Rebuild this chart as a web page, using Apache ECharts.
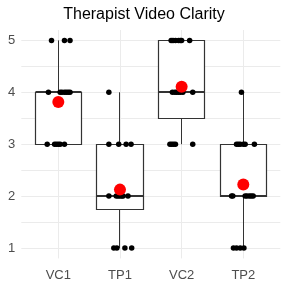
<!DOCTYPE html>
<html><head><meta charset="utf-8">
<script src="https://cdn.jsdelivr.net/npm/echarts@6/dist/echarts.min.js"></script>
<style>html,body{margin:0;padding:0;background:#fff}#c{width:288px;height:288px}</style>
</head><body><div id="c"></div>
<script>
const categories = ['VC1', 'TP1', 'VC2', 'TP2'];
const yTicks = [1, 2, 3, 4, 5];
const titleText = 'Therapist Video Clarity';

// ratings per group
const vc1Values = [3,3,3,3,3,3,4,4,4,4,4,4,4,5,5,5];
const tp1Values = [1,1,1,1,2,2,2,2,2,2,2,3,3,3,3,4];
const vc2Values = [3,3,3,3,3,4,4,4,4,4,4,4,5,5,5,5,5,5,5];
const tp2Values = [1,1,1,1,2,2,2,2,2,2,2,3,3,3,3,3,3,4];

// horizontal jitter (fraction of category spacing)
const vc1Jitter = [-0.18,-0.06,-0.03,0,0.03,0.10, -0.16,0.03,0.06,0.10,0.13,0.16,0.19, -0.11,0.10,0.19];
const tp1Jitter = [-0.10,-0.05,0.08,0.19, -0.18,-0.06,-0.03,0,0.03,0.05,0.13, -0.18,-0.02,0.10,0.18, -0.18];
const vc2Jitter = [-0.19,-0.16,-0.13,-0.10,0.18, -0.15,-0.11,-0.08,-0.05,-0.02,0.02,0.18, -0.17,-0.14,-0.10,-0.05,-0.02,0.0,0.13];
const tp2Jitter = [-0.16,-0.11,-0.05,0.01, -0.19,-0.17,0.03,0.06,0.10,0.13,0.16, -0.11,-0.08,-0.05,0,0.03,0.18, -0.03];

const groups = [vc1Values, tp1Values, vc2Values, tp2Values];
const jitters = [vc1Jitter, tp1Jitter, vc2Jitter, tp2Jitter];

function quantile7(sorted, p) {
  const h = (sorted.length - 1) * p;
  const lo = Math.floor(h), hi = Math.ceil(h);
  return sorted[lo] + (h - lo) * (sorted[hi] - sorted[lo]);
}
function boxStats(vals) {
  const s = vals.slice().sort((a, b) => a - b);
  const q1 = quantile7(s, 0.25), med = quantile7(s, 0.5), q3 = quantile7(s, 0.75);
  const iqr = q3 - q1;
  const lo = Math.min(...s.filter(v => v >= q1 - 1.5 * iqr));
  const hi = Math.max(...s.filter(v => v <= q3 + 1.5 * iqr));
  return [lo, q1, med, q3, hi];
}
const boxData = groups.map((g, i) => [i].concat(boxStats(g)));
const meanData = groups.map((g, i) => [i, g.reduce((a, b) => a + b, 0) / g.length]);
const pointData = [];
groups.forEach((g, i) => g.forEach((v, k) => pointData.push([i + jitters[i][k], v])));

const chart = echarts.init(document.getElementById('c'), null, {renderer: 'canvas'});
const font = 'Liberation Sans, Arial, sans-serif';
const gridCol = '#EBEBEB';
const snap = v => Math.round(v - 0.5) + 0.5;

chart.setOption({
  animation: false,
  backgroundColor: '#ffffff',
  title: {
    text: titleText, left: 'center', top: 7, padding: [0, 0, 0, 13],
    textStyle: {fontFamily: font, fontSize: 16, fontWeight: 'normal', color: '#000'}
  },
  grid: [
    {left: 21.3, right: 7.7, top: 30, bottom: 29.6},
    {left: 58.3, right: 44.7, top: 30, bottom: 29.6}
  ],
  xAxis: [
    {gridIndex: 0, type: 'value', min: -0.6, max: 3.6, show: false},
    {gridIndex: 1, type: 'category', data: categories, boundaryGap: false, position: 'bottom',
      axisLine: {show: false}, axisTick: {show: false},
      axisLabel: {color: '#4D4D4D', fontFamily: font, fontSize: 13, margin: 10.5},
      splitLine: {show: true, lineStyle: {color: gridCol, width: 1}}},
    {gridIndex: 1, type: 'value', min: 0, max: 3, show: false, position: 'top'}
  ],
  yAxis: [
    {gridIndex: 0, type: 'value', min: 0.8, max: 5.2,
      axisLine: {show: false}, axisTick: {show: false},
      axisLabel: {color: '#4D4D4D', fontFamily: font, fontSize: 13, margin: 6,
        showMinLabel: false, showMaxLabel: false,
        formatter: v => (yTicks.indexOf(Math.round(v * 1000) / 1000) >= 0 ? String(Math.round(v)) : '')},
      splitLine: {show: true, showMinLine: false, showMaxLine: false, lineStyle: {color: gridCol, width: 1}},
      minorTick: {show: false, splitNumber: 2},
      minorSplitLine: {show: true, lineStyle: {color: gridCol, width: 1}}},
    {gridIndex: 1, type: 'value', min: 0.8, max: 5.2, show: false}
  ],
  series: [
    {
      type: 'custom', xAxisIndex: 2, yAxisIndex: 1, z: 2, clip: false,
      data: boxData,
      renderItem: function (params, api) {
        const i = api.value(0);
        const pLo = api.coord([i, api.value(1)]);
        const pQ1 = api.coord([i, api.value(2)]);
        const pMed = api.coord([i, api.value(3)]);
        const pQ3 = api.coord([i, api.value(4)]);
        const pHi = api.coord([i, api.value(5)]);
        const hw = api.size([0.375, 0])[0];
        const cx = snap(pMed[0]);
        const xl = snap(pMed[0] - hw), xr = snap(pMed[0] + hw);
        const yq1 = snap(pQ1[1]), yq3 = snap(pQ3[1]);
        const stroke = {stroke: '#333333', lineWidth: 1, fill: null};
        return {
          type: 'group',
          children: [
            {type: 'line', shape: {x1: cx, y1: pHi[1], x2: cx, y2: yq3}, style: stroke},
            {type: 'line', shape: {x1: cx, y1: yq1, x2: cx, y2: pLo[1]}, style: stroke},
            {type: 'rect', shape: {x: xl, y: yq3, width: xr - xl, height: yq1 - yq3},
              style: {fill: '#ffffff', stroke: '#333333', lineWidth: 1.2}},
            {type: 'line', shape: {x1: xl, y1: Math.round(pMed[1]), x2: xr, y2: Math.round(pMed[1])},
              style: {stroke: '#333333', lineWidth: 2}}
          ]
        };
      }
    },
    {
      type: 'scatter', xAxisIndex: 2, yAxisIndex: 1, z: 3, clip: false,
      data: pointData, symbol: 'circle', symbolSize: 5.5,
      itemStyle: {color: '#000000', opacity: 1}
    },
    {
      type: 'scatter', xAxisIndex: 2, yAxisIndex: 1, z: 4, clip: false,
      data: meanData, symbol: 'circle', symbolSize: 12,
      itemStyle: {color: '#FF0000', opacity: 1}
    }
  ]
});
</script>
</body></html>
